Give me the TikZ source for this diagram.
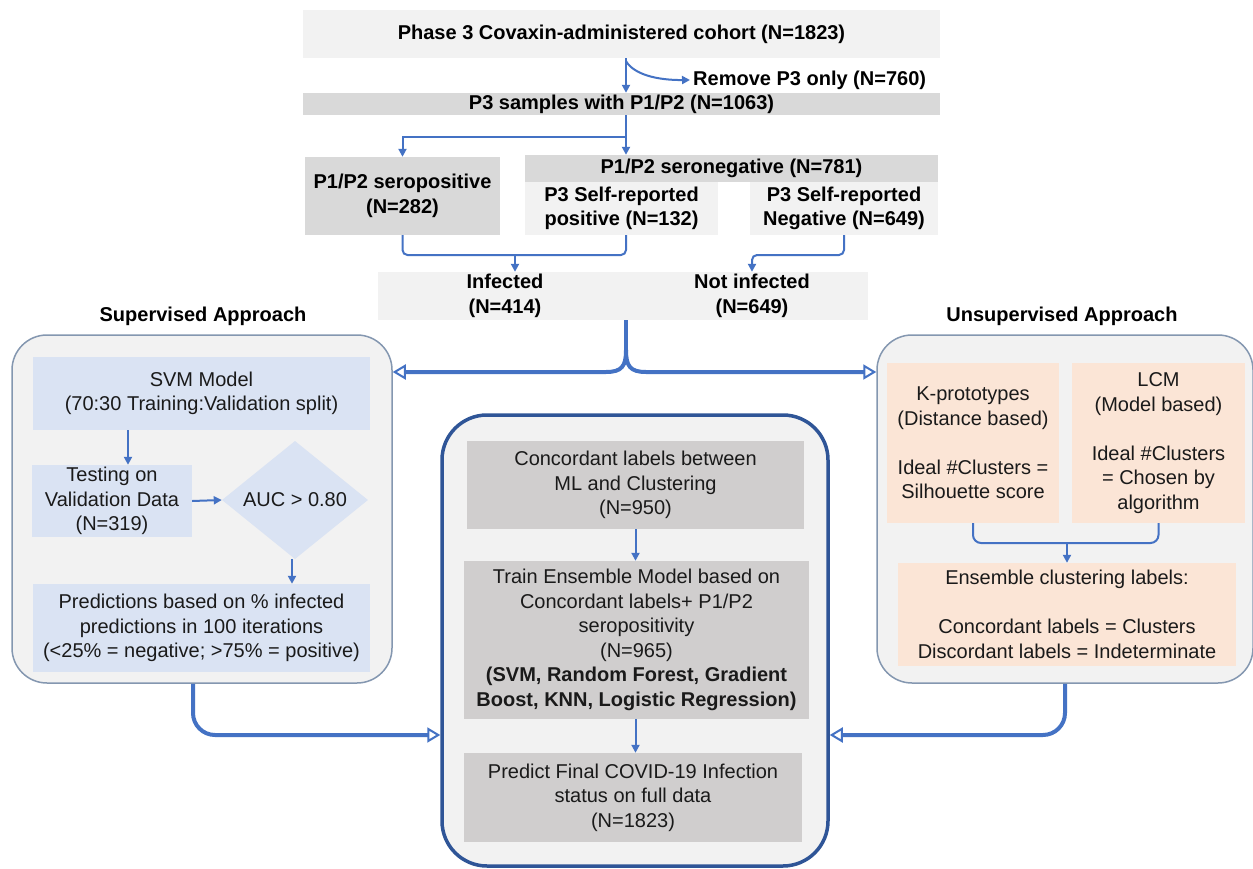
\documentclass[tikz,border=0pt]{standalone}
\usepackage{fontspec}
\setmainfont{Liberation Sans}
\usetikzlibrary{arrows.meta,shapes.geometric,calc}
\definecolor{lgray}{HTML}{F2F2F2}
\definecolor{mgray}{HTML}{D9D9D9}
\definecolor{cgray}{HTML}{D0CECE}
\definecolor{lblue}{HTML}{DAE3F3}
\definecolor{peach}{HTML}{FBE5D6}
\definecolor{arrblue}{HTML}{4472C4}
\definecolor{outerb}{HTML}{8497B0}
\definecolor{darkb}{HTML}{2F5597}
\definecolor{txt}{HTML}{1A1A1A}
\begin{document}
\begin{tikzpicture}[x=1pt,y=-1pt,
  base/.style={rectangle, inner sep=0pt, align=center, text=txt, font=\fontsize{20}{24.5}\selectfont},
  bbase/.style={base, text=black, font=\fontsize{20}{24.5}\selectfont\bfseries},
  lbox/.style={fill=lgray},
  mbox/.style={fill=mgray},
  cbox/.style={fill=cgray},
  bbox/.style={fill=lblue},
  pbox/.style={fill=peach},
  arr/.style={draw=arrblue, line width=2pt, -{Triangle[length=8pt,width=8pt]}},
  ln/.style={draw=arrblue, line width=2pt},
  big/.style={draw=arrblue, line width=4pt, -{Triangle[open,length=13pt,width=15pt,line width=2pt]}},
  outer/.style={rectangle, fill=lgray, draw=outerb, line width=1.5pt, rounded corners=35pt},
]
\useasboundingbox (0,0) rectangle (1253,869);
\fill[white] (0,0) rectangle (1253,869);

% helper coordinates
\coordinate (m) at (626,0);
\coordinate (j1) at (626,137);
\coordinate (j2) at (515,255);
\coordinate (j3) at (752,255);
\coordinate (b) at (626,350);
\coordinate (yl) at (0,372);
\coordinate (lb) at (193,0);
\coordinate (rb) at (1065,0);
\coordinate (yb) at (0,735);
\coordinate (svmx) at (128,0);
\coordinate (aucx) at (292,0);
\coordinate (ey) at (0,543);
\coordinate (ej) at (1067,543);

% top flow
\node[bbase, lbox, minimum width=637pt, minimum height=48pt] (top) at (621.5,34) {Phase 3 Covaxin-administered cohort (N=1823)};
\node[bbase, mbox, minimum width=637pt, minimum height=22pt] (p3) at (621.5,104) {P3 samples with P1/P2 (N=1063)};
\node[bbase, anchor=west] (remove) at (693,80) {Remove P3 only (N=760)};
\node[bbase, mbox, minimum width=195pt, minimum height=78pt] (seropos) at (402.5,196) {P1/P2 seropositive\\(N=282)};
\node[bbase, mbox, minimum width=413pt, minimum height=27pt] (seroneg) at (731.5,168.5) {P1/P2 seronegative (N=781)};
\node[bbase, lbox, minimum width=193pt, minimum height=53pt] (srpos) at (621.5,208.5) {P3 Self-reported\\positive (N=132)};
\node[bbase, lbox, minimum width=188pt, minimum height=53pt] (srneg) at (844,208.5) {P3 Self-reported\\Negative (N=649)};
\node[base, lbox, minimum width=490pt, minimum height=48pt] (infbox) at (623,296) {};
\node[bbase] (inf) at (505,296) {Infected\\(N=414)};
\node[bbase] (notinf) at (752,296) {Not infected\\(N=649)};

\draw[arr] (top.south -| m) -- (p3.north -| m);
\draw[arr] ($(top.south -| m)+(0,3)$) .. controls ($(top.south -| m)+(8,16)$) and ($(top.south -| m)+(30,22)$) .. ($(remove.west)+(-3,0)$);
\draw[arr] (p3.south -| j1) -- (j1) -| (seropos.north);
\draw[arr] (j1) -- (seroneg.north -| j1);
\draw[ln, rounded corners=5pt] (seropos.south) |- (j2 -| m) -- (srpos.south -| m);
\draw[arr] (j2) -- (infbox.north -| j2);
\draw[arr, rounded corners=5pt] (srneg.south) |- (j3) -- (infbox.north -| j3);

% section labels
\node[bbase] (suplab) at (203,316) {Supervised Approach};
\node[bbase] (unsuplab) at (1062,316) {Unsupervised Approach};

% outer boxes
\node[outer, minimum width=380pt, minimum height=348pt] (sup) at (202,509) {};
\node[outer, minimum width=376pt, minimum height=348pt] (unsup) at (1065,509) {};
\node[outer, draw=darkb, line width=3.5pt, rounded corners=45pt, minimum width=386pt, minimum height=451pt] (cen) at (635,640.5) {};

% brace arrows
\draw[line width=4pt, draw=arrblue] (infbox.south -| m) -- (b);
\draw[big] (b) .. controls ($(b)+(0,16)$) and ($(b)+(-4,22)$) .. ($(b)+(-20,22)$) -- (sup.east |- yl);
\draw[big] (b) .. controls ($(b)+(0,16)$) and ($(b)+(4,22)$) .. ($(b)+(20,22)$) -- (unsup.west |- yl);

% supervised
\node[base, bbox, minimum width=337pt, minimum height=73pt] (svm) at (201.5,393.5) {SVM Model\\(70:30 Training:Validation split)};
\node[base, bbox, minimum width=160pt, minimum height=72pt] (test) at (112,501) {Testing on\\Validation Data\\(N=319)};
\node[diamond, fill=lblue, inner sep=0pt, text=txt, minimum width=146pt, minimum height=74pt, font=\fontsize{20}{24.5}\selectfont] (auc) at (295,500) {AUC > 0.80};
\node[base, bbox, minimum width=337pt, minimum height=88pt] (pred) at (201.5,628) {Predictions based on \% infected\\predictions in 100 iterations\\(<25\% = negative; >75\% = positive)};
\draw[arr] (svm.south -| svmx) -- (test.north -| svmx);
\draw[arr] (test.east) -- (auc.west);
\draw[arr] (auc.south -| aucx) -- (pred.north -| aucx);

% unsupervised
\node[base, pbox, minimum width=172pt, minimum height=160pt] (kp) at (973,443) {K-prototypes\\(Distance based)\\[24.5pt]Ideal \#Clusters =\\Silhouette score};
\node[base, pbox, minimum width=173pt, minimum height=160pt] (lcm) at (1158.5,443) {LCM\\(Model based)\\[24.5pt]Ideal \#Clusters\\= Chosen by\\algorithm};
\node[base, pbox, minimum width=338pt, minimum height=103pt] (ens) at (1067,614.5) {Ensemble clustering labels:\\[24.5pt]Concordant labels = Clusters\\Discordant labels = Indeterminate};
\draw[ln, rounded corners=8pt] (kp.south) |- (ey -| lcm.south) -- (lcm.south);
\draw[arr] (ej) -- (ens.north -| ej);

% center
\node[base, cbox, minimum width=337pt, minimum height=88pt] (conc) at (635.5,485) {Concordant labels between\\ML and Clustering\\(N=950)};
\node[base, cbox, minimum width=345pt, minimum height=158pt] (train) at (636.5,640) {Train Ensemble Model based on\\Concordant labels+ P1/P2\\seropositivity\\(N=965)\\\textbf{(SVM, Random Forest, Gradient}\\\textbf{Boost, KNN, Logistic Regression)}};
\node[base, cbox, minimum width=338pt, minimum height=89pt] (final) at (633,797.5) {Predict Final COVID-19 Infection\\status on full data\\(N=1823)};
\draw[arr] (conc.south) -- (train.north -| conc.south);
\draw[arr] (train.south -| conc.south) -- (final.north -| conc.south);

% bottom connectors
\draw[big, rounded corners=22pt] (sup.south -| lb) |- (cen.west |- yb);
\draw[big, rounded corners=22pt] (unsup.south -| rb) |- (cen.east |- yb);
\end{tikzpicture}
\end{document}
